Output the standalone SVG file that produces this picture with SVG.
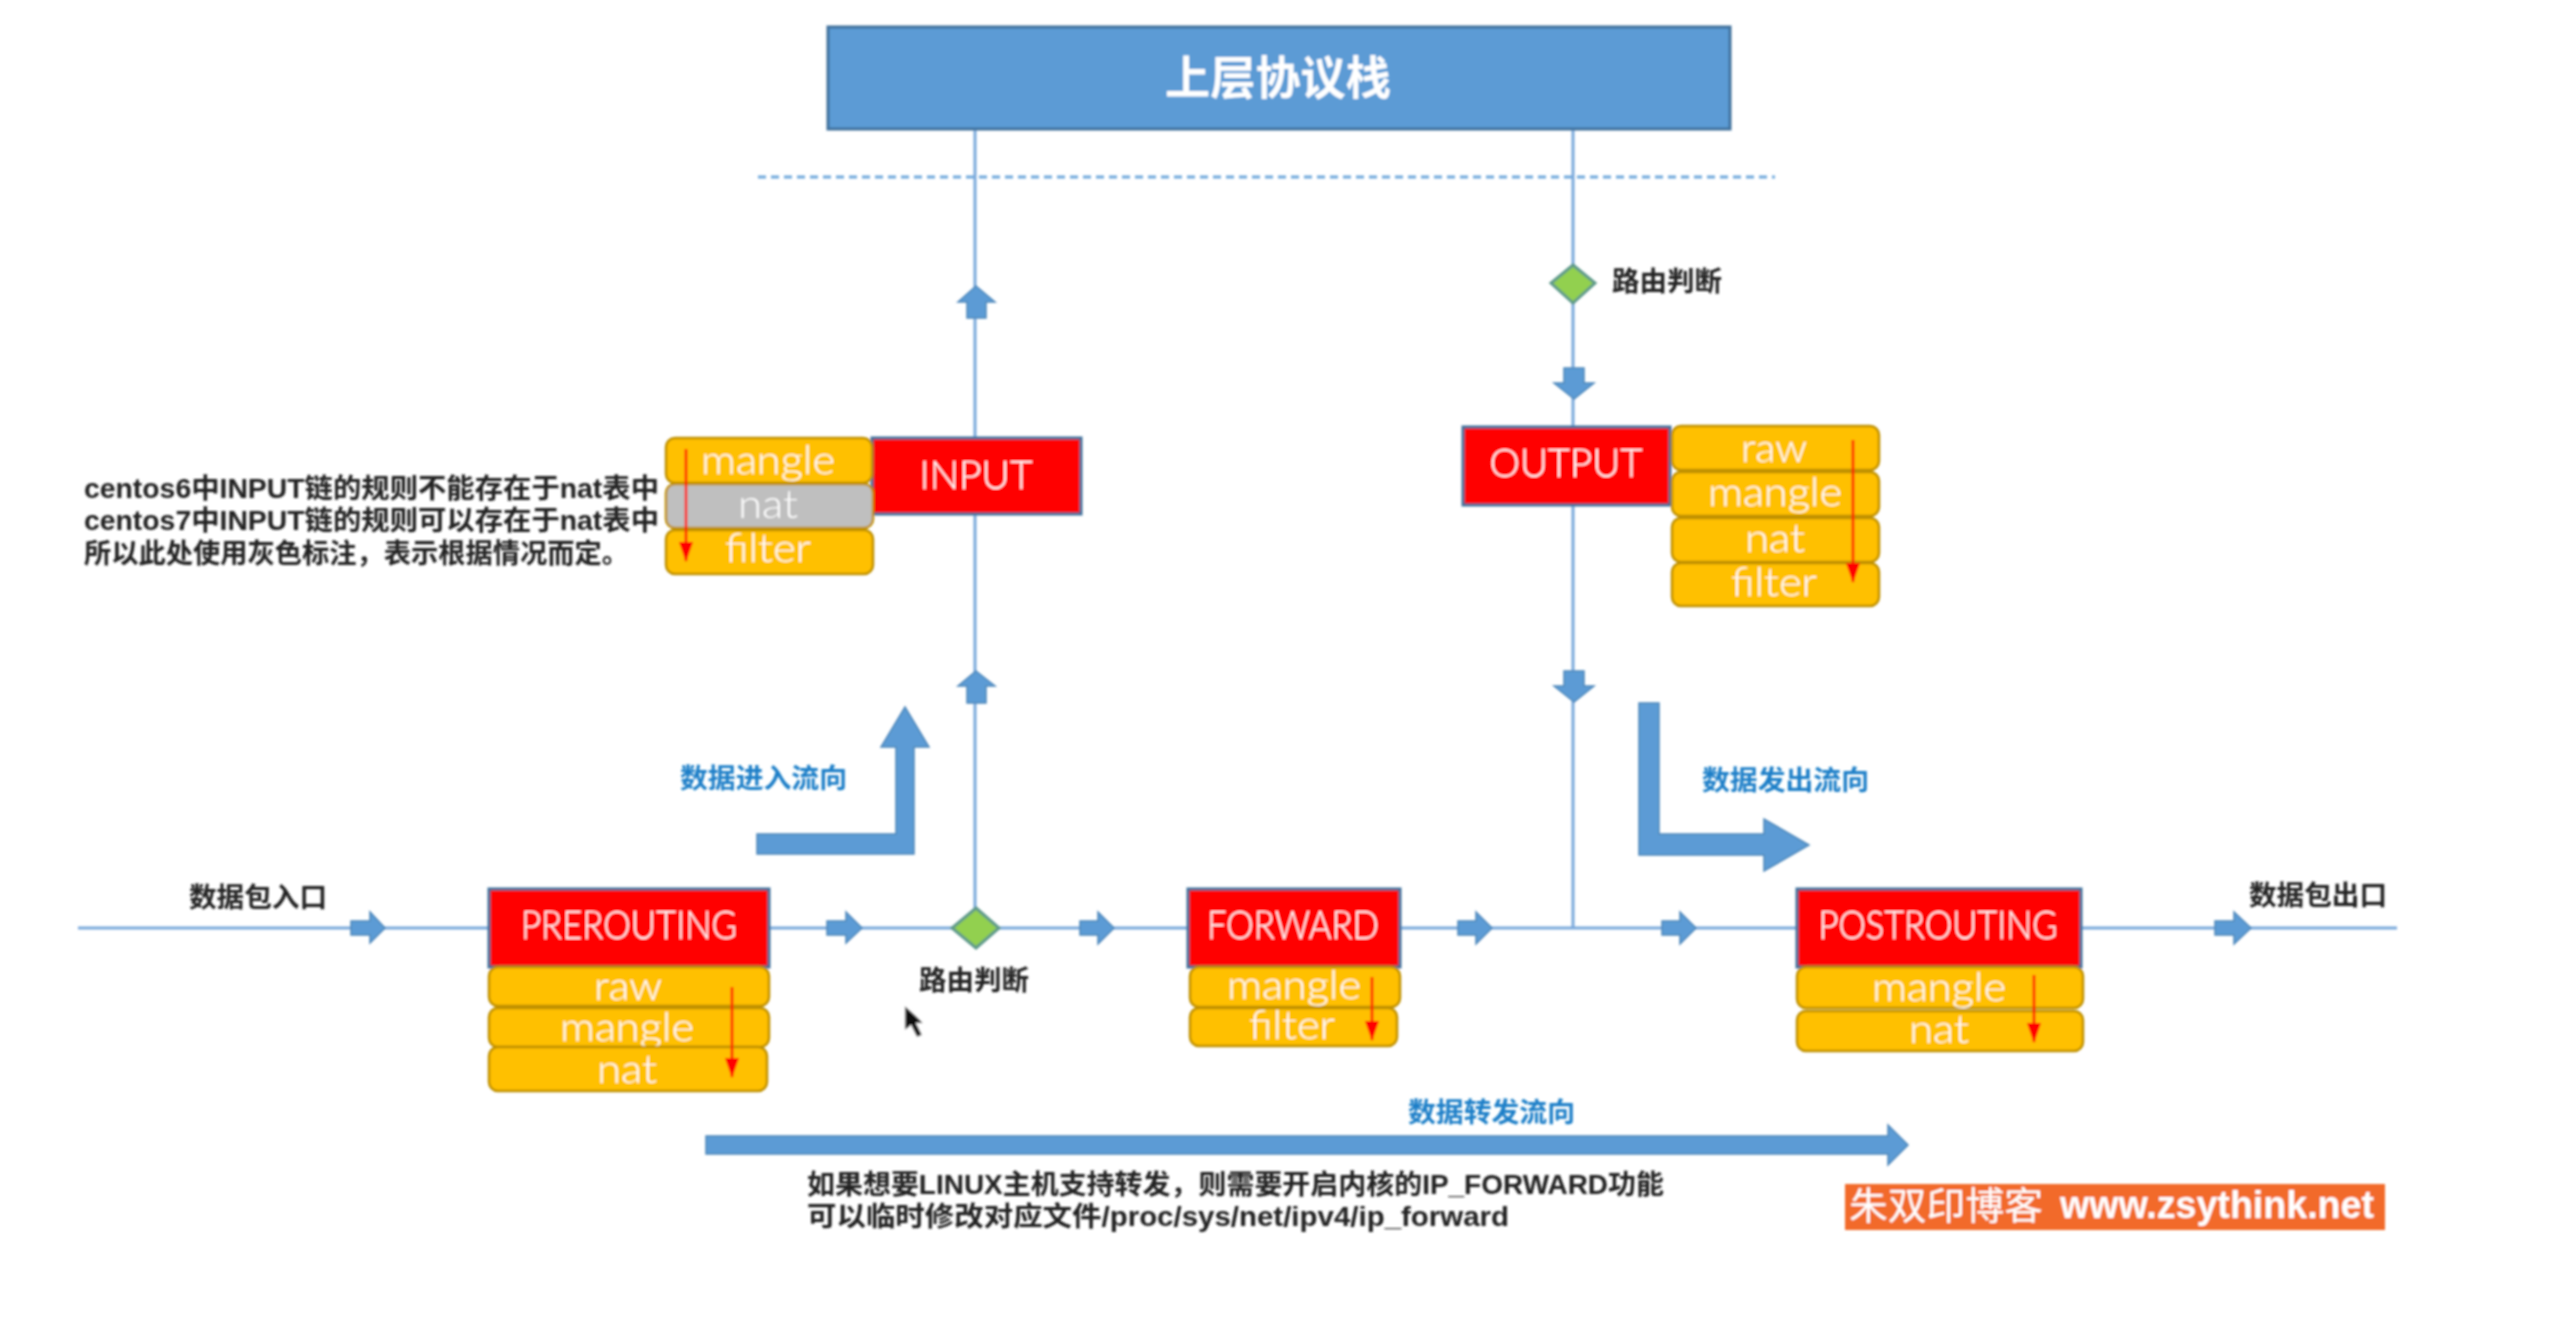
<svg xmlns="http://www.w3.org/2000/svg" width="2557" height="1318" viewBox="0 0 2557 1318">
<style>
.line{stroke:#7aa9dc;stroke-width:3;fill:none}
.flow{fill:#5b9bd5;stroke:#4f88bb;stroke-width:1.5}
.chain{fill:#f00;stroke:#41719c;stroke-width:3}
.tbl{fill:#ffc000;stroke:#bf9000;stroke-width:2.5}
.gray{fill:#bfbfbf;stroke:#bf9000;stroke-width:2.5}
.dia{fill:#92d050;stroke:#5f9a8a;stroke-width:3}
.red{stroke:#f00;stroke-width:2.5;fill:none;marker-end:url(#rd)}
text{font-family:"Liberation Sans","Noto Sans CJK SC",sans-serif}
.cn{font-family:"Lato","Noto Sans CJK SC",sans-serif;font-weight:300;fill:#fff;text-anchor:middle;font-size:39px;dominant-baseline:central}
.lb{font-weight:700;fill:#222;font-size:27px;dominant-baseline:central}
.bl{font-weight:700;fill:#1f7fc8;font-size:27px;dominant-baseline:central}
</style>
<defs>
<marker id="rd" markerUnits="userSpaceOnUse" markerWidth="20" markerHeight="14" refX="19" refY="7" orient="auto"><path d="M0 0L20 7L0 14Z" fill="#f00"/></marker>
<filter id="soft" x="0" y="0" width="2557" height="1318" filterUnits="userSpaceOnUse"><feGaussianBlur stdDeviation="1"/></filter>
</defs>
<rect width="2557" height="1318" fill="#fff"/>
<g filter="url(#soft)">
<g id="connectors">
<path class="line" d="M78 928H2397M975 129V928M1573 129V928"/>
<path d="M758 177H1775" stroke="#6fa8dc" stroke-width="3" stroke-dasharray="8 5" fill="none"/>
<path class="flow" d="M976 286L995 302H986V318H967V302H958Z"/>
<path class="flow" d="M976 671L995 686H986V703H967V686H958Z"/>
<path class="flow" d="M1574 399L1554 383H1564V368H1584V383H1594Z"/>
<path class="flow" d="M1574 702L1554 686H1564V671H1584V686H1594Z"/>
<path class="flow" d="M351 921H370V912L385 928L370 943V935H351Z"/>
<path class="flow" d="M827 921H846V912L862 928L846 943V935H827Z"/>
<path class="flow" d="M1080 921H1098V912L1114 928L1098 944V935H1080Z"/>
<path class="flow" d="M1458 921H1476V912L1492 928L1476 944V935H1458Z"/>
<path class="flow" d="M1662 921H1680V912L1696 928L1680 944V935H1662Z"/>
<path class="flow" d="M2215 921H2234V912L2251 928L2234 944V935H2215Z"/>
<path class="flow" d="M757 834H896V747H881L905 707L929 747H914V854H757Z"/>
<path class="flow" d="M1639 703H1659V834H1764V819L1809 845L1764 871V855H1639Z"/>
<path class="flow" d="M706 1136H1888V1125L1908 1145L1888 1165V1154H706Z"/>
</g>
<g id="upper-stack"><rect x="828" y="27" width="902" height="102" fill="#5b9bd5" stroke="#41719c" stroke-width="3"/><text class="cn" x="1278" y="76" style="font-size:46px;font-weight:700" textLength="226" lengthAdjust="spacingAndGlyphs">上层协议栈</text></g>
<g id="input">
<rect class="chain" x="872" y="438" width="209" height="76"/><text class="cn" x="976" y="474" textLength="113" lengthAdjust="spacingAndGlyphs">INPUT</text>
<rect class="tbl" x="666" y="438" width="206" height="45" rx="9"/><text class="cn" x="768" y="459" textLength="134" lengthAdjust="spacingAndGlyphs">mangle</text>
<rect class="gray" x="666" y="484" width="207" height="44" rx="9"/><text class="cn" x="768" y="503" textLength="60" lengthAdjust="spacingAndGlyphs">nat</text>
<rect class="tbl" x="666" y="530" width="207" height="44" rx="9"/><text class="cn" x="768" y="547" textLength="86" lengthAdjust="spacingAndGlyphs">filter</text>
<path class="red" d="M686 449V561"/>
</g>
<g id="output">
<rect class="chain" x="1463" y="427" width="207" height="78"/><text class="cn" x="1566" y="462" textLength="153" lengthAdjust="spacingAndGlyphs">OUTPUT</text>
<rect class="tbl" x="1672" y="426" width="207" height="44" rx="9"/><text class="cn" x="1774" y="447" textLength="66" lengthAdjust="spacingAndGlyphs">raw</text>
<rect class="tbl" x="1672" y="472" width="207" height="44" rx="9"/><text class="cn" x="1775" y="491" textLength="134" lengthAdjust="spacingAndGlyphs">mangle</text>
<rect class="tbl" x="1672" y="518" width="207" height="44" rx="9"/><text class="cn" x="1775" y="537" textLength="60" lengthAdjust="spacingAndGlyphs">nat</text>
<rect class="tbl" x="1672" y="563" width="207" height="43" rx="9"/><text class="cn" x="1774" y="581" textLength="86" lengthAdjust="spacingAndGlyphs">filter</text>
<path class="red" d="M1853 440V582"/>
</g>
<g id="prerouting">
<rect class="chain" x="489" y="889" width="280" height="78"/><text class="cn" x="629" y="924" textLength="216" lengthAdjust="spacingAndGlyphs">PREROUTING</text>
<rect class="tbl" x="489" y="967" width="280" height="39" rx="9"/><text class="cn" x="628" y="985" textLength="68" lengthAdjust="spacingAndGlyphs">raw</text>
<rect class="tbl" x="489" y="1008" width="280" height="39" rx="9"/><text class="cn" x="627" y="1026" textLength="134" lengthAdjust="spacingAndGlyphs">mangle</text>
<rect class="tbl" x="489" y="1047" width="278" height="44" rx="9"/><text class="cn" x="627" y="1068" textLength="60" lengthAdjust="spacingAndGlyphs">nat</text>
<path class="red" d="M732 987V1077"/>
</g>
<g id="forward">
<rect class="chain" x="1188" y="889" width="212" height="78"/><text class="cn" x="1293" y="924" textLength="172" lengthAdjust="spacingAndGlyphs">FORWARD</text>
<rect class="tbl" x="1190" y="967" width="210" height="40" rx="9"/><text class="cn" x="1294" y="984" textLength="134" lengthAdjust="spacingAndGlyphs">mangle</text>
<rect class="tbl" x="1190" y="1008" width="207" height="38" rx="9"/><text class="cn" x="1292" y="1024" textLength="86" lengthAdjust="spacingAndGlyphs">filter</text>
<path class="red" d="M1372 977V1040"/>
</g>
<g id="postrouting">
<rect class="chain" x="1797" y="889" width="284" height="78"/><text class="cn" x="1938" y="924" textLength="239" lengthAdjust="spacingAndGlyphs">POSTROUTING</text>
<rect class="tbl" x="1797" y="967" width="286" height="41" rx="9"/><text class="cn" x="1939" y="986" textLength="134" lengthAdjust="spacingAndGlyphs">mangle</text>
<rect class="tbl" x="1797" y="1011" width="286" height="40" rx="9"/><text class="cn" x="1939" y="1028" textLength="60" lengthAdjust="spacingAndGlyphs">nat</text>
<path class="red" d="M2034 975V1042"/>
</g>
<g id="route-in"><path class="dia" d="M976 908L999 928L976 948L952 928Z"/><text class="lb" x="919" y="981" textLength="110" lengthAdjust="spacingAndGlyphs">路由判断</text></g>
<g id="route-out"><path class="dia" d="M1573 265L1595 283L1573 303L1551 283Z"/><text class="lb" x="1612" y="282" textLength="110" lengthAdjust="spacingAndGlyphs">路由判断</text></g>
<g id="labels">
<text class="lb" x="84" y="489" textLength="575" lengthAdjust="spacingAndGlyphs">centos6中INPUT链的规则不能存在于nat表中</text>
<text class="lb" x="84" y="521" textLength="575" lengthAdjust="spacingAndGlyphs">centos7中INPUT链的规则可以存在于nat表中</text>
<text class="lb" x="84" y="554" textLength="545" lengthAdjust="spacingAndGlyphs">所以此处使用灰色标注，表示根据情况而定。</text>
<text class="lb" x="189" y="898" textLength="138" lengthAdjust="spacingAndGlyphs">数据包入口</text>
<text class="lb" x="2249" y="896" textLength="138" lengthAdjust="spacingAndGlyphs">数据包出口</text>
<text class="bl" x="680" y="779" textLength="167" lengthAdjust="spacingAndGlyphs">数据进入流向</text>
<text class="bl" x="1702" y="781" textLength="167" lengthAdjust="spacingAndGlyphs">数据发出流向</text>
<text class="bl" x="1408" y="1113" textLength="167" lengthAdjust="spacingAndGlyphs">数据转发流向</text>
<text class="lb" x="807" y="1185" textLength="857" lengthAdjust="spacingAndGlyphs">如果想要LINUX主机支持转发，则需要开启内核的IP_FORWARD功能</text>
<text class="lb" x="807" y="1217" textLength="702" lengthAdjust="spacingAndGlyphs">可以临时修改对应文件/proc/sys/net/ipv4/ip_forward</text>
</g>
<g id="watermark"><rect x="1845" y="1184" width="540" height="46" fill="#f26b2a"/>
<text x="1849" y="1206" fill="#fff" font-size="38" style="dominant-baseline:central" textLength="194" lengthAdjust="spacingAndGlyphs">朱双印博客</text>
<text x="2060" y="1205" fill="#fff" font-size="38" font-weight="700" style="dominant-baseline:central" textLength="314" lengthAdjust="spacingAndGlyphs">www.zsythink.net</text></g>
<path id="cursor" d="M905 1006V1030L911 1025L917 1037L922 1035L916 1023L923 1023Z" fill="#111" stroke="#ddd" stroke-width="1"/>
</g>
</svg>
